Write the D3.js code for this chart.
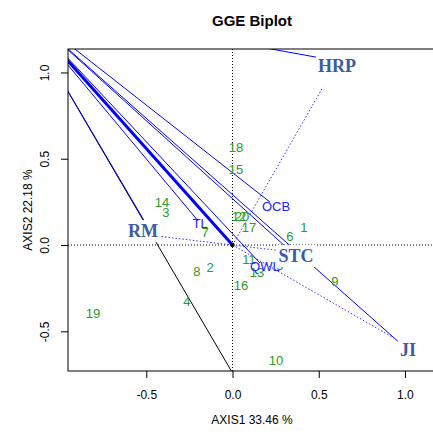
<!DOCTYPE html>
<html>
<head>
<meta charset="utf-8">
<script src="https://cdn.jsdelivr.net/npm/d3@7"></script>
<style>
  body { margin: 0; background: #fff; }
</style>
</head>
<body>
<div id="chart"></div>
<script>
// genotype scores (green labels)
const genoNames = ['1', '2', '3', '4', '5', '6', '7', '8', '9', '10',
  '11', '12', '13', '14', '15', '16', '17', '18', '19', '20']
const genoX = [0.414, -0.130, -0.386, -0.264, 0.275, 0.333, -0.159, -0.206, 0.594, 0.252,
  0.096, 0.038, 0.142, -0.409, 0.020, 0.049, 0.096, 0.020, -0.809, 0.055]
const genoY = [0.099, -0.133, 0.191, -0.330, -0.116, 0.052, 0.070, -0.151, -0.214, -0.672,
  -0.081, 0.168, -0.162, 0.249, 0.435, -0.232, 0.099, 0.568, -0.394, 0.168]

// check genotypes (blue labels)
const checkNames = ['TL', 'OCB', 'QWL']
const checkX = [-0.188, 0.252, 0.188]
const checkY = [0.122, 0.226, -0.122]

// environments: vector end points and label positions
const envNames = ['HRP', 'RM', 'STC', 'JI']
const envX = [0.525, -0.42, 0.30, 0.936]
const envY = [0.916, 0.05, -0.035, -0.539]
const envLabelX = [0.606, -0.519, 0.368, 1.017]
const envLabelY = [1.038, 0.081, -0.064, -0.609]

// solid lines, all from one point up-left of the plot
const lineOrigin = [-1.255, 1.403]
const lineToX = [0.606, 1.017, 0.368, 0.217, 0.159, -0.20, 0, -0.467]
const lineToY = [1.067, -0.609, -0.064, 0.249, -0.104, 0.14, 0, 0.064]
const lineWidth = [1, 1, 1, 1, 1, 1, 3, 1]
const blackTo = [0.005, -0.75]

const xTicks = [-0.5, 0, 0.5, 1.0]
const yTicks = [-0.5, 0, 0.5, 1.0]

const sans = "'Liberation Sans', Arial, sans-serif"
const serif = "'Liberation Serif', 'Times New Roman', serif"

var margin = { top: 49, right: -3, bottom: 63, left: 68 }
let width = 433 - margin.left - margin.right
let height = 434 - margin.top - margin.bottom

let svg = d3
  .select('#chart')
  .append('svg')
  .attr('width', 433)
  .attr('height', 434)
  .style('font-family', sans)

let g = svg.append('g').attr('transform', `translate(${margin.left},${margin.top})`)

const x = d3.scaleLinear().domain([-0.954, 1.180]).range([0, width])
const y = d3.scaleLinear().domain([-0.730, 1.136]).range([height, 0])

svg.append('defs').append('clipPath').attr('id', 'clip')
  .append('rect').attr('width', width).attr('height', height)

let plot = g.append('g').attr('clip-path', 'url(#clip)')

// reference axes through origin
plot.append('line')
  .attr('x1', 0).attr('x2', width)
  .attr('y1', y(0)).attr('y2', y(0))
  .attr('stroke', '#000').attr('stroke-dasharray', '1,2')
plot.append('line')
  .attr('x1', x(0)).attr('x2', x(0))
  .attr('y1', 0).attr('y2', height)
  .attr('stroke', '#000').attr('stroke-dasharray', '1,2')

// environment vectors
plot.selectAll('.env-vec')
  .data(envNames)
  .enter()
  .append('line')
  .attr('class', 'env-vec')
  .attr('x1', x(0)).attr('y1', y(0))
  .attr('x2', (d, i) => x(envX[i]))
  .attr('y2', (d, i) => y(envY[i]))
  .attr('stroke', '#3030ff')
  .attr('stroke-dasharray', '1.5,2')

// black line
plot.append('line')
  .attr('x1', x(lineOrigin[0])).attr('y1', y(lineOrigin[1]))
  .attr('x2', x(blackTo[0])).attr('y2', y(blackTo[1]))
  .attr('stroke', '#000')

// blue solid lines
plot.selectAll('.blue-line')
  .data(lineToX)
  .enter()
  .append('line')
  .attr('class', 'blue-line')
  .attr('x1', x(lineOrigin[0])).attr('y1', y(lineOrigin[1]))
  .attr('x2', d => x(d))
  .attr('y2', (d, i) => y(lineToY[i]))
  .attr('stroke', '#0000ff')
  .attr('stroke-width', (d, i) => lineWidth[i])

// origin point
plot.append('circle')
  .attr('cx', x(0)).attr('cy', y(0)).attr('r', 2.2).attr('fill', '#000')

// genotype labels
plot.selectAll('.geno')
  .data(genoNames)
  .enter()
  .append('text')
  .attr('class', 'geno')
  .attr('x', (d, i) => x(genoX[i]))
  .attr('y', (d, i) => y(genoY[i]))
  .attr('text-anchor', 'middle')
  .attr('dominant-baseline', 'central')
  .attr('font-size', 13)
  .attr('fill', '#2b9b2b')
  .text(d => d)

plot.selectAll('.check')
  .data(checkNames)
  .enter()
  .append('text')
  .attr('class', 'check')
  .attr('x', (d, i) => x(checkX[i]))
  .attr('y', (d, i) => y(checkY[i]))
  .attr('text-anchor', 'middle')
  .attr('dominant-baseline', 'central')
  .attr('font-size', 13)
  .attr('fill', '#2020ff')
  .text(d => d)

// environment labels on white boxes
let envLab = plot.selectAll('.env')
  .data(envNames)
  .enter()
  .append('g')
  .attr('class', 'env')
  .attr('transform', (d, i) => `translate(${x(envLabelX[i])},${y(envLabelY[i])})`)

envLab.append('text')
  .attr('text-anchor', 'middle')
  .attr('dominant-baseline', 'central')
  .style('font-family', serif)
  .attr('font-weight', 'bold')
  .attr('font-size', 18)
  .attr('fill', '#3b5ba5')
  .text(d => d)

envLab.each(function () {
  let gg = d3.select(this)
  let bb = gg.select('text').node().getBBox()
  gg.insert('rect', 'text')
    .attr('x', bb.x - 2)
    .attr('y', bb.y - 1)
    .attr('width', bb.width + 4)
    .attr('height', bb.height + 2)
    .attr('fill', '#fff')
})

// frame
g.append('rect')
  .attr('width', width).attr('height', height)
  .attr('fill', 'none').attr('stroke', '#000')

// axes
const fmt = d => d3.format('.1f')(d).replace('\u2212', '-')
let xAxis = d3.axisBottom(x).tickValues(xTicks).tickSize(7).tickPadding(12)
  .tickFormat(fmt)
let yAxis = d3.axisLeft(y).tickValues(yTicks).tickSize(7)
  .tickFormat(fmt)

let xg = g.append('g').attr('transform', `translate(0,${height})`).call(xAxis)
xg.select('.domain').remove()
xg.selectAll('text').attr('font-size', 12).attr('fill', '#000')
  .style('font-family', sans)

let yg = g.append('g').call(yAxis)
yg.select('.domain').remove()
yg.selectAll('text')
  .attr('font-size', 12).attr('fill', '#000')
  .style('font-family', sans)
  .attr('text-anchor', 'middle')
  .attr('dy', null)
  .attr('dominant-baseline', 'central')
  .attr('x', -23)
  .attr('transform', 'rotate(-90, -23, 0)')

// titles
svg.append('text')
  .attr('x', 252).attr('y', 20)
  .attr('text-anchor', 'middle')
  .attr('dominant-baseline', 'central')
  .attr('font-size', 15)
  .attr('font-weight', 'bold')
  .text('GGE Biplot')

svg.append('text')
  .attr('x', 252).attr('y', 420)
  .attr('text-anchor', 'middle')
  .attr('dominant-baseline', 'central')
  .attr('font-size', 12)
  .text('AXIS1 33.46 %')

svg.append('text')
  .attr('transform', 'translate(28,210) rotate(-90)')
  .attr('text-anchor', 'middle')
  .attr('dominant-baseline', 'central')
  .attr('font-size', 12)
  .text('AXIS2 22.18 %')
</script>
</body>
</html>
